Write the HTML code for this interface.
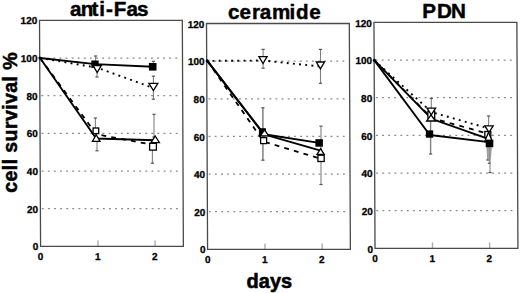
<!DOCTYPE html><html><head><meta charset="utf-8"><style>html,body{margin:0;padding:0;background:#fff;}svg{display:block;} text{font-kerning:none;}</style></head><body>
<svg width="520" height="293" viewBox="0 0 520 293">
<rect width="520" height="293" fill="#fff"/>
<g font-family='"Liberation Sans", sans-serif' font-weight="bold">
<g transform="matrix(1,0,0.0047,1,-0.627,0)">
<line x1="41.5" y1="208.6" x2="181.8" y2="208.6" stroke="#8a8a8a" stroke-width="1.25" stroke-dasharray="1.9 4.2"/>
<line x1="41.5" y1="171.0" x2="181.8" y2="171.0" stroke="#8a8a8a" stroke-width="1.25" stroke-dasharray="1.9 4.2"/>
<line x1="41.5" y1="133.3" x2="181.8" y2="133.3" stroke="#8a8a8a" stroke-width="1.25" stroke-dasharray="1.9 4.2"/>
<line x1="41.5" y1="95.6" x2="181.8" y2="95.6" stroke="#8a8a8a" stroke-width="1.25" stroke-dasharray="1.9 4.2"/>
<line x1="41.5" y1="58.0" x2="181.8" y2="58.0" stroke="#8a8a8a" stroke-width="1.25" stroke-dasharray="1.9 4.2"/>
<line x1="97.5" y1="240.5" x2="97.5" y2="246.3" stroke="#aaa" stroke-width="1.4"/>
<line x1="154.6" y1="240.5" x2="154.6" y2="246.3" stroke="#aaa" stroke-width="1.4"/>
<rect x="40.05" y="20.30" width="142.80" height="226.00" fill="none" stroke="#4a4a4a" stroke-width="1.3"/>
<text transform="translate(37.8,250.4) " font-size="10.0" text-anchor="end" fill="#000" stroke="#000" stroke-width="0.3">0</text>
<text transform="translate(37.8,212.7) " font-size="10.0" text-anchor="end" fill="#000" stroke="#000" stroke-width="0.3">20</text>
<text transform="translate(37.8,175.1) " font-size="10.0" text-anchor="end" fill="#000" stroke="#000" stroke-width="0.3">40</text>
<text transform="translate(37.8,137.4) " font-size="10.0" text-anchor="end" fill="#000" stroke="#000" stroke-width="0.3">60</text>
<text transform="translate(37.8,99.7) " font-size="10.0" text-anchor="end" fill="#000" stroke="#000" stroke-width="0.3">80</text>
<text transform="translate(37.8,62.1) " font-size="10.0" text-anchor="end" fill="#000" stroke="#000" stroke-width="0.3">100</text>
<text transform="translate(37.8,24.4) " font-size="10.0" text-anchor="end" fill="#000" stroke="#000" stroke-width="0.3">120</text>
<text transform="translate(40.0,259.9) " font-size="10.0" text-anchor="middle" fill="#000" stroke="#000" stroke-width="0.3">0</text>
<text transform="translate(97.2,259.9) " font-size="10.0" text-anchor="middle" fill="#000" stroke="#000" stroke-width="0.3">1</text>
<text transform="translate(154.3,259.9) " font-size="10.0" text-anchor="middle" fill="#000" stroke="#000" stroke-width="0.3">2</text>
</g>
<text x="69.9 80.8 91.4 99.3 106.0 113.8 126.4 137.0" y="16.0" font-size="20.6" fill="#000" stroke="#000" stroke-width="0.45">anti-Fas</text>
<g transform="matrix(1,0,0.0047,1,-0.641,0)">
<line x1="208.6" y1="211.7" x2="348.9" y2="211.7" stroke="#8a8a8a" stroke-width="1.25" stroke-dasharray="1.9 4.2"/>
<line x1="208.6" y1="174.0" x2="348.9" y2="174.0" stroke="#8a8a8a" stroke-width="1.25" stroke-dasharray="1.9 4.2"/>
<line x1="208.6" y1="136.4" x2="348.9" y2="136.4" stroke="#8a8a8a" stroke-width="1.25" stroke-dasharray="1.9 4.2"/>
<line x1="208.6" y1="98.8" x2="348.9" y2="98.8" stroke="#8a8a8a" stroke-width="1.25" stroke-dasharray="1.9 4.2"/>
<line x1="208.6" y1="61.1" x2="348.9" y2="61.1" stroke="#8a8a8a" stroke-width="1.25" stroke-dasharray="1.9 4.2"/>
<line x1="264.5" y1="243.5" x2="264.5" y2="249.3" stroke="#aaa" stroke-width="1.4"/>
<line x1="321.6" y1="243.5" x2="321.6" y2="249.3" stroke="#aaa" stroke-width="1.4"/>
<rect x="207.05" y="23.50" width="142.80" height="225.80" fill="none" stroke="#4a4a4a" stroke-width="1.3"/>
<text transform="translate(204.9,253.4) " font-size="10.0" text-anchor="end" fill="#000" stroke="#000" stroke-width="0.3">0</text>
<text transform="translate(204.9,215.8) " font-size="10.0" text-anchor="end" fill="#000" stroke="#000" stroke-width="0.3">20</text>
<text transform="translate(204.9,178.1) " font-size="10.0" text-anchor="end" fill="#000" stroke="#000" stroke-width="0.3">40</text>
<text transform="translate(204.9,140.5) " font-size="10.0" text-anchor="end" fill="#000" stroke="#000" stroke-width="0.3">60</text>
<text transform="translate(204.9,102.9) " font-size="10.0" text-anchor="end" fill="#000" stroke="#000" stroke-width="0.3">80</text>
<text transform="translate(204.9,65.2) " font-size="10.0" text-anchor="end" fill="#000" stroke="#000" stroke-width="0.3">100</text>
<text transform="translate(204.9,27.6) " font-size="10.0" text-anchor="end" fill="#000" stroke="#000" stroke-width="0.3">120</text>
<text transform="translate(207.1,262.9) " font-size="10.0" text-anchor="middle" fill="#000" stroke="#000" stroke-width="0.3">0</text>
<text transform="translate(264.2,262.9) " font-size="10.0" text-anchor="middle" fill="#000" stroke="#000" stroke-width="0.3">1</text>
<text transform="translate(321.3,262.9) " font-size="10.0" text-anchor="middle" fill="#000" stroke="#000" stroke-width="0.3">2</text>
</g>
<text x="227.9 239.6 252.1 259.7 272.0 289.5 296.1 309.2" y="18.5" font-size="20.6" fill="#000" stroke="#000" stroke-width="0.45">ceramide</text>
<g transform="matrix(1,0,0.0047,1,-0.636,0)">
<line x1="376.0" y1="210.7" x2="516.4" y2="210.7" stroke="#8a8a8a" stroke-width="1.25" stroke-dasharray="1.9 4.2"/>
<line x1="376.0" y1="173.1" x2="516.4" y2="173.1" stroke="#8a8a8a" stroke-width="1.25" stroke-dasharray="1.9 4.2"/>
<line x1="376.0" y1="135.4" x2="516.4" y2="135.4" stroke="#8a8a8a" stroke-width="1.25" stroke-dasharray="1.9 4.2"/>
<line x1="376.0" y1="97.7" x2="516.4" y2="97.7" stroke="#8a8a8a" stroke-width="1.25" stroke-dasharray="1.9 4.2"/>
<line x1="376.0" y1="60.1" x2="516.4" y2="60.1" stroke="#8a8a8a" stroke-width="1.25" stroke-dasharray="1.9 4.2"/>
<line x1="432.0" y1="242.6" x2="432.0" y2="248.4" stroke="#aaa" stroke-width="1.4"/>
<line x1="489.1" y1="242.6" x2="489.1" y2="248.4" stroke="#aaa" stroke-width="1.4"/>
<rect x="374.50" y="22.40" width="142.90" height="226.00" fill="none" stroke="#4a4a4a" stroke-width="1.3"/>
<text transform="translate(372.4,252.5) " font-size="10.0" text-anchor="end" fill="#000" stroke="#000" stroke-width="0.3">0</text>
<text transform="translate(372.4,214.8) " font-size="10.0" text-anchor="end" fill="#000" stroke="#000" stroke-width="0.3">20</text>
<text transform="translate(372.4,177.2) " font-size="10.0" text-anchor="end" fill="#000" stroke="#000" stroke-width="0.3">40</text>
<text transform="translate(372.4,139.5) " font-size="10.0" text-anchor="end" fill="#000" stroke="#000" stroke-width="0.3">60</text>
<text transform="translate(372.4,101.8) " font-size="10.0" text-anchor="end" fill="#000" stroke="#000" stroke-width="0.3">80</text>
<text transform="translate(372.4,64.2) " font-size="10.0" text-anchor="end" fill="#000" stroke="#000" stroke-width="0.3">100</text>
<text transform="translate(372.4,26.5) " font-size="10.0" text-anchor="end" fill="#000" stroke="#000" stroke-width="0.3">120</text>
<text transform="translate(374.5,262.0) " font-size="10.0" text-anchor="middle" fill="#000" stroke="#000" stroke-width="0.3">0</text>
<text transform="translate(431.7,262.0) " font-size="10.0" text-anchor="middle" fill="#000" stroke="#000" stroke-width="0.3">1</text>
<text transform="translate(488.8,262.0) " font-size="10.0" text-anchor="middle" fill="#000" stroke="#000" stroke-width="0.3">2</text>
</g>
<text x="422.3 436.9 451.0" y="17.8" font-size="20.6" fill="#000" stroke="#000" stroke-width="0.45">PDN</text>
<text transform="translate(17.1,192.7) rotate(-90)" font-size="19.6" fill="#000" stroke="#000" stroke-width="0.5" textLength="140.3" lengthAdjust="spacing">cell survival %</text>
<text x="269.4" y="287.7" font-size="20.0" text-anchor="middle" fill="#000" stroke="#000" stroke-width="0.55">days</text>
<line x1="95.6" y1="56.0" x2="95.6" y2="64.0" stroke="#808080" stroke-width="1.1"/>
<line x1="94.0" y1="56.0" x2="97.2" y2="56.0" stroke="#555" stroke-width="1.2"/>
<line x1="94.0" y1="64.0" x2="97.2" y2="64.0" stroke="#555" stroke-width="1.2"/>
<line x1="97.0" y1="70.0" x2="97.0" y2="77.0" stroke="#808080" stroke-width="1.1"/>
<line x1="95.4" y1="70.0" x2="98.6" y2="70.0" stroke="#555" stroke-width="1.2"/>
<line x1="95.4" y1="77.0" x2="98.6" y2="77.0" stroke="#555" stroke-width="1.2"/>
<line x1="153.4" y1="61.3" x2="153.4" y2="67.0" stroke="#808080" stroke-width="1.1"/>
<line x1="151.8" y1="61.3" x2="155.0" y2="61.3" stroke="#555" stroke-width="1.2"/>
<line x1="151.8" y1="67.0" x2="155.0" y2="67.0" stroke="#555" stroke-width="1.2"/>
<line x1="153.4" y1="76.2" x2="153.4" y2="99.2" stroke="#808080" stroke-width="1.1"/>
<line x1="151.8" y1="76.2" x2="155.0" y2="76.2" stroke="#555" stroke-width="1.2"/>
<line x1="151.8" y1="99.2" x2="155.0" y2="99.2" stroke="#555" stroke-width="1.2"/>
<line x1="95.4" y1="118.0" x2="95.4" y2="131.0" stroke="#808080" stroke-width="1.1"/>
<line x1="93.8" y1="118.0" x2="97.0" y2="118.0" stroke="#555" stroke-width="1.2"/>
<line x1="93.8" y1="131.0" x2="97.0" y2="131.0" stroke="#555" stroke-width="1.2"/>
<line x1="97.0" y1="138.0" x2="97.0" y2="150.8" stroke="#808080" stroke-width="1.1"/>
<line x1="95.4" y1="138.0" x2="98.6" y2="138.0" stroke="#555" stroke-width="1.2"/>
<line x1="95.4" y1="150.8" x2="98.6" y2="150.8" stroke="#555" stroke-width="1.2"/>
<line x1="154.0" y1="114.3" x2="154.0" y2="137.0" stroke="#808080" stroke-width="1.1"/>
<line x1="152.4" y1="114.3" x2="155.6" y2="114.3" stroke="#555" stroke-width="1.2"/>
<line x1="152.4" y1="137.0" x2="155.6" y2="137.0" stroke="#555" stroke-width="1.2"/>
<line x1="152.4" y1="146.0" x2="152.4" y2="163.2" stroke="#808080" stroke-width="1.1"/>
<line x1="150.8" y1="146.0" x2="154.0" y2="146.0" stroke="#555" stroke-width="1.2"/>
<line x1="150.8" y1="163.2" x2="154.0" y2="163.2" stroke="#555" stroke-width="1.2"/>
<polyline points="40.0,58.0 95.1,64.1 152.7,66.8" fill="none" stroke="#000" stroke-width="1.9" stroke-linejoin="round"/>
<polyline points="40.0,58.0 97.3,67.7 153.4,88.0" fill="none" stroke="#000" stroke-width="1.9" stroke-dasharray="1.9 4.3" stroke-dashoffset="0"/>
<polyline points="40.0,58.0 96.4,134.3 153.0,144.8" fill="none" stroke="#000" stroke-width="1.8" stroke-dasharray="4.8 5.2"/>
<polyline points="40.0,58.0 96.2,138.5 155.0,140.3" fill="none" stroke="#000" stroke-width="1.9" stroke-linejoin="round"/>
<rect x="91.3" y="60.5" width="7.4" height="7.4" fill="#000"/>
<polygon points="93.1,65.6 101.3,65.6 97.2,72.5" fill="#fff" stroke="#000" stroke-width="1.3" stroke-linejoin="miter"/>
<rect x="148.9" y="63.0" width="7.6" height="7.6" fill="#000"/>
<polygon points="148.9,83.3 157.9,83.3 153.4,90.6" fill="#fff" stroke="#000" stroke-width="1.3" stroke-linejoin="miter"/>
<rect x="93.1" y="128.0" width="5.6" height="5.6" fill="#fff" stroke="#000" stroke-width="1.3"/>
<polygon points="96.2,134.8 100.0,141.4 92.4,141.4" fill="#fff" stroke="#000" stroke-width="1.3" stroke-linejoin="miter"/>
<rect x="149.6" y="143.3" width="6.8" height="6.8" fill="#fff" stroke="#000" stroke-width="1.3"/>
<polygon points="155.2,136.0 159.4,142.6 151.0,142.6" fill="#fff" stroke="#000" stroke-width="1.3" stroke-linejoin="miter"/>
<circle cx="40" cy="58" r="1.6" fill="#000"/>
<line x1="263.1" y1="49.4" x2="263.1" y2="68.2" stroke="#808080" stroke-width="1.1"/>
<line x1="261.5" y1="49.4" x2="264.7" y2="49.4" stroke="#555" stroke-width="1.2"/>
<line x1="261.5" y1="68.2" x2="264.7" y2="68.2" stroke="#555" stroke-width="1.2"/>
<line x1="320.5" y1="49.4" x2="320.5" y2="83.3" stroke="#808080" stroke-width="1.1"/>
<line x1="318.9" y1="49.4" x2="322.1" y2="49.4" stroke="#555" stroke-width="1.2"/>
<line x1="318.9" y1="83.3" x2="322.1" y2="83.3" stroke="#555" stroke-width="1.2"/>
<line x1="262.9" y1="107.8" x2="262.9" y2="160.2" stroke="#808080" stroke-width="1.5"/>
<line x1="261.3" y1="107.8" x2="264.5" y2="107.8" stroke="#555" stroke-width="1.2"/>
<line x1="261.3" y1="160.2" x2="264.5" y2="160.2" stroke="#555" stroke-width="1.2"/>
<line x1="321.0" y1="126.2" x2="321.0" y2="184.5" stroke="#808080" stroke-width="1.1"/>
<line x1="319.4" y1="126.2" x2="322.6" y2="126.2" stroke="#555" stroke-width="1.2"/>
<line x1="319.4" y1="184.5" x2="322.6" y2="184.5" stroke="#555" stroke-width="1.2"/>
<polyline points="207.3,60.9 263.0,60.5 320.4,66.5" fill="none" stroke="#000" stroke-width="1.9" stroke-dasharray="1.9 4.3" stroke-dashoffset="1.0"/>
<polyline points="207.3,60.9 263.9,134.2 319.1,142.9" fill="none" stroke="#000" stroke-width="1.9" stroke-linejoin="round"/>
<polyline points="207.3,60.9 264.1,134.4 320.6,150.6" fill="none" stroke="#000" stroke-width="1.9" stroke-linejoin="round"/>
<polyline points="207.3,60.9 263.6,141.6 321.0,158.8" fill="none" stroke="#000" stroke-width="1.8" stroke-dasharray="4.8 5.2"/>
<polygon points="258.9,56.6 267.1,56.6 263.0,63.5" fill="#fff" stroke="#000" stroke-width="1.3" stroke-linejoin="miter"/>
<polygon points="316.3,62.0 324.5,62.0 320.4,68.9" fill="#fff" stroke="#000" stroke-width="1.3" stroke-linejoin="miter"/>
<rect x="258.9" y="128.2" width="7.0" height="7.0" fill="#000"/>
<polygon points="264.5,129.9 268.7,135.9 260.3,135.9" fill="#fff" stroke="#000" stroke-width="1.3" stroke-linejoin="miter"/>
<rect x="260.6" y="137.6" width="6.0" height="6.0" fill="#fff" stroke="#000" stroke-width="1.3"/>
<rect x="315.4" y="139.2" width="7.5" height="7.5" fill="#000"/>
<polygon points="320.6,148.7 324.2,154.3 317.0,154.3" fill="#fff" stroke="#000" stroke-width="1.3" stroke-linejoin="miter"/>
<rect x="317.9" y="155.2" width="6.3" height="6.3" fill="#fff" stroke="#000" stroke-width="1.3"/>
<circle cx="207.3" cy="60.9" r="1.6" fill="#000"/>
<line x1="431.3" y1="98.4" x2="431.3" y2="110.0" stroke="#808080" stroke-width="1.1"/>
<line x1="429.7" y1="98.4" x2="432.9" y2="98.4" stroke="#555" stroke-width="1.2"/>
<line x1="429.7" y1="110.0" x2="432.9" y2="110.0" stroke="#555" stroke-width="1.2"/>
<line x1="430.6" y1="118.0" x2="430.6" y2="154.0" stroke="#808080" stroke-width="1.4"/>
<line x1="429.0" y1="118.0" x2="432.2" y2="118.0" stroke="#555" stroke-width="1.2"/>
<line x1="429.0" y1="154.0" x2="432.2" y2="154.0" stroke="#555" stroke-width="1.2"/>
<line x1="488.6" y1="116.0" x2="488.6" y2="128.0" stroke="#808080" stroke-width="1.1"/>
<line x1="487.0" y1="116.0" x2="490.2" y2="116.0" stroke="#555" stroke-width="1.2"/>
<line x1="487.0" y1="128.0" x2="490.2" y2="128.0" stroke="#555" stroke-width="1.2"/>
<polygon points="486.3,146.5 492.3,146.5 490.6,159.5 487.2,159.5" fill="#b4b4b4"/>
<line x1="487.8" y1="146.0" x2="487.8" y2="160.0" stroke="#999" stroke-width="1.2"/>
<line x1="486.2" y1="146.0" x2="489.4" y2="146.0" stroke="#555" stroke-width="1.2"/>
<line x1="486.2" y1="160.0" x2="489.4" y2="160.0" stroke="#555" stroke-width="1.2"/>
<line x1="489.4" y1="146.0" x2="489.4" y2="163.3" stroke="#999" stroke-width="1.2"/>
<line x1="487.8" y1="146.0" x2="491.0" y2="146.0" stroke="#555" stroke-width="1.2"/>
<line x1="487.8" y1="163.3" x2="491.0" y2="163.3" stroke="#555" stroke-width="1.2"/>
<line x1="490.0" y1="146.0" x2="490.0" y2="172.6" stroke="#888" stroke-width="1.1"/>
<line x1="488.4" y1="146.0" x2="491.6" y2="146.0" stroke="#555" stroke-width="1.2"/>
<line x1="488.4" y1="172.6" x2="491.6" y2="172.6" stroke="#555" stroke-width="1.2"/>
<polyline points="374.4,60.4 431.7,112.2 489.0,128.5" fill="none" stroke="#000" stroke-width="1.9" stroke-dasharray="1.9 4.3" stroke-dashoffset="0"/>
<polyline points="374.4,60.4 431.7,118.1 489.0,133.9" fill="none" stroke="#000" stroke-width="1.8" stroke-dasharray="4.8 5.2"/>
<polyline points="374.4,60.4 431.7,118.8 489.0,139.1" fill="none" stroke="#000" stroke-width="1.9" stroke-linejoin="round"/>
<polyline points="374.4,60.4 429.8,135.0 489.0,142.1" fill="none" stroke="#000" stroke-width="1.9" stroke-linejoin="round"/>
<rect x="427.9" y="111.2" width="6.8" height="6.8" fill="#fff" stroke="#000" stroke-width="1.3"/>
<polygon points="427.0,108.2 435.6,108.2 431.3,114.8" fill="#fff" stroke="#000" stroke-width="1.3" stroke-linejoin="miter"/>
<polygon points="431.0,114.8 435.4,121.0 426.6,121.0" fill="#fff" stroke="#000" stroke-width="1.3" stroke-linejoin="miter"/>
<rect x="425.9" y="130.4" width="7.3" height="7.3" fill="#000"/>
<rect x="484.8" y="131.5" width="6.0" height="6.0" fill="#fff" stroke="#000" stroke-width="1.3"/>
<polygon points="484.8,125.8 493.2,125.8 489.0,132.3" fill="#fff" stroke="#000" stroke-width="1.3" stroke-linejoin="miter"/>
<polygon points="488.5,132.3 492.3,141.6 484.7,141.6" fill="#fff" stroke="#000" stroke-width="1.3" stroke-linejoin="miter"/>
<rect x="485.7" y="139.6" width="7.6" height="7.6" fill="#000"/>
<circle cx="374.4" cy="60.4" r="1.6" fill="#000"/>
</g></svg></body></html>
